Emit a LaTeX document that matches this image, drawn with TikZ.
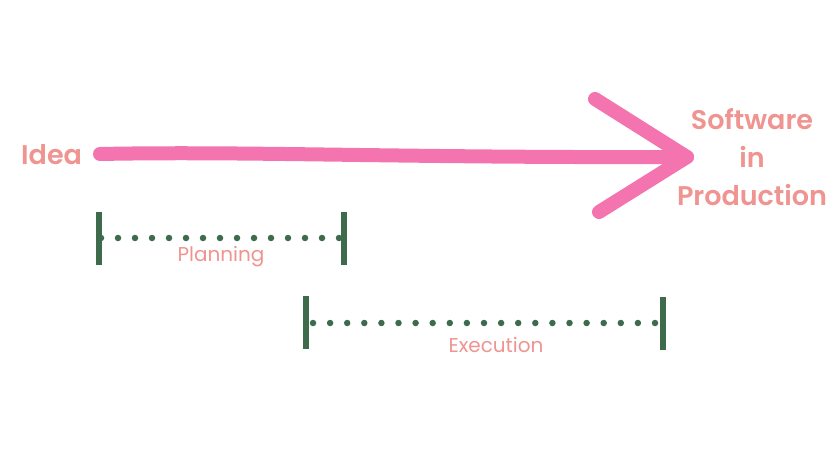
\documentclass[tikz,border=0pt]{standalone}
\usepackage{fontspec}
\setmainfont{Poppins}
\newfontfamily\semibfont{Poppins SemiBold}
\definecolor{salmon}{HTML}{EF9490}
\definecolor{pinkarrow}{HTML}{F374AE}
\definecolor{darkgreen}{HTML}{3D6B4C}
\tikzset{
  bigtext/.style={text=salmon, font=\fontsize{27}{38}\selectfont\semibfont, inner sep=0pt, align=center},
  smalltext/.style={text=salmon, font=\fontsize{20}{22}\selectfont, inner sep=0pt},
  pinkline/.style={draw=pinkarrow, line width=14pt, line cap=round, line join=round},
  endbar/.style={draw=darkgreen, line width=6pt},
  dotline/.style={draw=darkgreen, line width=6.5pt, line cap=round, dash pattern=on 0pt off 17pt},
}
\begin{document}
\begin{tikzpicture}[x=1pt, y=-1pt]
\useasboundingbox (0,0) rectangle (840,473);
% texts
\node[bigtext, anchor=base west] (idea) at (21,165) {Idea};
\node[bigtext] (sip) at (752,157) {Software\\in\\Production};
\node[smalltext] (plan) at (221,257) {Planning};
\node[smalltext] (exec) at (496,345) {Execution};
% arrow
\coordinate (a0) at (100,154);
\coordinate (tip) at (687,157);
\coordinate (up) at (595,99);
\coordinate (dn) at (599,212);
\draw[pinkline] (a0) .. controls (250,151) and (400,158) .. (tip);
\draw[pinkline] (up) -- (tip) -- (dn);
% planning bracket
\coordinate (p1t) at (99,212); \coordinate (p1b) at (99,265);
\coordinate (p2t) at (344,212); \coordinate (p2b) at (344,265);
\coordinate (pl) at (101,238); \coordinate (pr) at (339,238);
\draw[endbar] (p1t) -- (p1b);
\draw[endbar] (p2t) -- (p2b);
\draw[dotline, dash pattern=on 0pt off 17pt] (pl) -- (pr);
% execution bracket
\coordinate (e1t) at (306,296); \coordinate (e1b) at (306,349);
\coordinate (e2t) at (663,297); \coordinate (e2b) at (663,350);
\coordinate (el) at (313,323); \coordinate (er) at (655,323);
\draw[endbar] (e1t) -- (e1b);
\draw[endbar] (e2t) -- (e2b);
\draw[dotline, dash pattern=on 0pt off 17.1pt] (el) -- (er);
\end{tikzpicture}
\end{document}
